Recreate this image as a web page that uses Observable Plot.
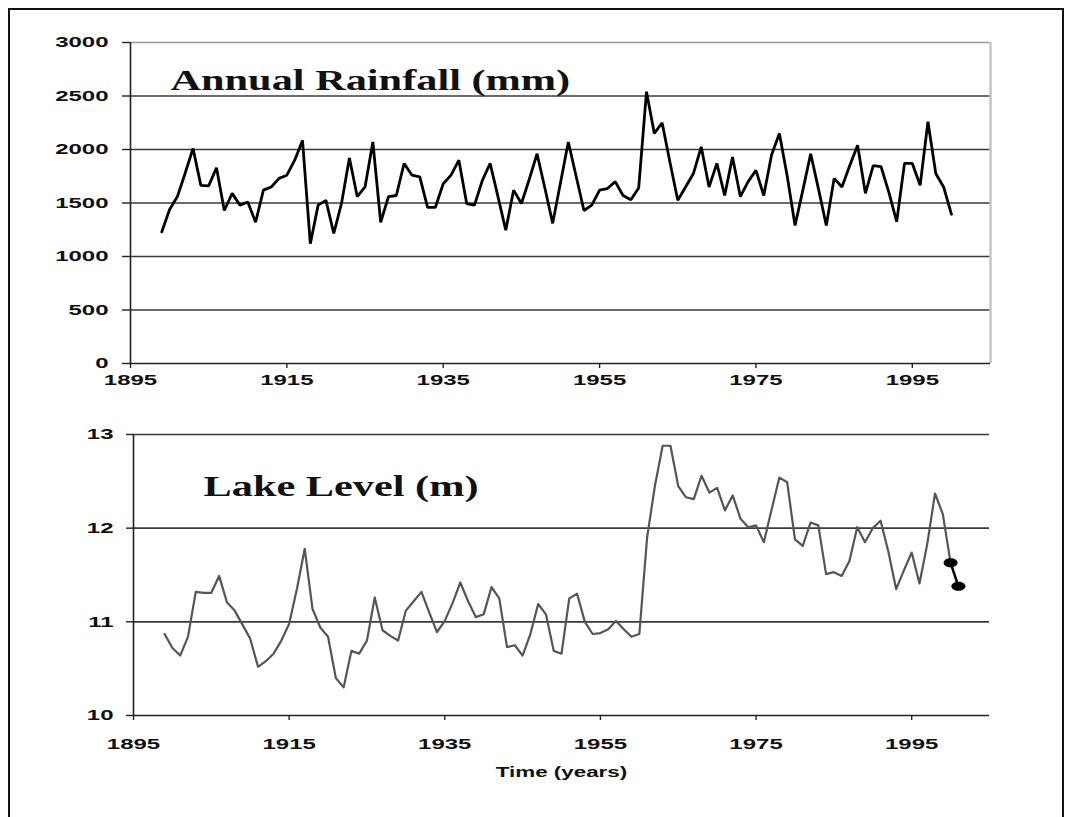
<!DOCTYPE html>
<html>
<head>
<meta charset="utf-8">
<script src="https://cdn.jsdelivr.net/npm/d3@7"></script>
<script src="https://cdn.jsdelivr.net/npm/@observablehq/plot@0.6"></script>
<style>
  body { margin: 0; background: #fff; }
  #wrap { position: relative; width: 1072px; height: 817px; overflow: hidden; background: #fff; }
  #frame { position: absolute; left: 8px; top: 8px; width: 1056px; height: 840px; border: 2px solid #111; box-sizing: border-box; }
  .panel { position: absolute; left: 0; }
</style>
</head>
<body>
<div id="wrap">
  <div id="frame"></div>
  <div id="top" class="panel" style="top:0"></div>
  <div id="bottom" class="panel" style="top:400px"></div>
</div>
<script>
// Annual rainfall (mm), one value per year starting 1899
const rainStart = 1899;
const rainfall = [
  1230, 1440, 1560, 1780, 2010, 1665, 1660, 1830, 1430, 1590,
  1480, 1510, 1320, 1620, 1650, 1730, 1760, 1900, 2085, 1120,
  1480, 1525, 1215, 1500, 1920, 1560, 1650, 2070, 1320, 1560,
  1570, 1870, 1760, 1745, 1460, 1460, 1680, 1760, 1900, 1495,
  1480, 1710, 1870, 1560, 1245, 1620, 1495, 1720, 1960, 1640,
  1310, 1690, 2070, 1750, 1430, 1480, 1620, 1635, 1700, 1570,
  1530, 1640, 2540, 2150, 2250, 1880, 1525, 1650, 1775, 2025,
  1650, 1870, 1570, 1930, 1560, 1700, 1805, 1570, 1950, 2150,
  1750, 1290, 1620, 1960, 1630, 1290, 1730, 1650, 1850, 2040,
  1590, 1850, 1840, 1600, 1325, 1870, 1870, 1665, 2260, 1775,
  1650, 1395
];
const rainYears = rainfall.map((_, i) => rainStart + i);

// Lake level (m), one value per year starting 1899
const lakeStart = 1899;
const lakeLevel = [
  10.87, 10.72, 10.64, 10.84, 11.32, 11.31, 11.31, 11.49, 11.21, 11.12,
  10.97, 10.82, 10.52, 10.58, 10.66, 10.80, 10.98, 11.35, 11.78, 11.14,
  10.94, 10.84, 10.40, 10.30, 10.69, 10.66, 10.80, 11.26, 10.91, 10.85,
  10.80, 11.12, 11.22, 11.32, 11.10, 10.89, 11.01, 11.20, 11.42, 11.22,
  11.05, 11.08, 11.37, 11.25, 10.73, 10.75, 10.64, 10.87, 11.19, 11.08,
  10.69, 10.66, 11.25, 11.30, 11.00, 10.87, 10.88, 10.92, 11.01, 10.92,
  10.84, 10.87, 11.90, 12.45, 12.88, 12.88, 12.45, 12.33, 12.31, 12.56,
  12.38, 12.43, 12.19, 12.35, 12.10, 12.01, 12.03, 11.85, 12.20, 12.54,
  12.49, 11.88, 11.81, 12.06, 12.03, 11.51, 11.53, 11.49, 11.65, 12.01,
  11.85, 12.00, 12.08, 11.75, 11.35, 11.55, 11.74, 11.41, 11.83, 12.37,
  12.15, 11.63
];
const lakeYears = lakeLevel.map((_, i) => lakeStart + i);

// Most recent lake readings, drawn as marked points
const recentYears = [2000, 2001];
const recentLevel = [11.63, 11.38];

const xTicks = [1895, 1915, 1935, 1955, 1975, 1995];
const rainTicks = [0, 500, 1000, 1500, 2000, 2500, 3000];
const lakeTicks = [10, 11, 12, 13];
const xDomain = [1895, 2005];

const rainTitle = "Annual Rainfall (mm)";
const lakeTitle = "Lake Level (m)";
const timeLabel = "Time (years)";

const sans = "'Liberation Sans', Arial, sans-serif";
const serif = "'Liberation Serif', 'Times New Roman', serif";

// filled ellipse symbol for the recent readings
const ellipse = {
  draw(ctx) {
    const rx = 7, ry = 4.5, k = 0.5523;
    ctx.moveTo(rx, 0);
    ctx.bezierCurveTo(rx, ry * k, rx * k, ry, 0, ry);
    ctx.bezierCurveTo(-rx * k, ry, -rx, ry * k, -rx, 0);
    ctx.bezierCurveTo(-rx, -ry * k, -rx * k, -ry, 0, -ry);
    ctx.bezierCurveTo(rx * k, -ry, rx, -ry * k, rx, 0);
    ctx.closePath();
  }
};

const baseStyle = {fontFamily: sans, fontSize: "15px", fontWeight: "bold", background: "transparent", color: "#111", overflow: "visible"};

const rainPlot = Plot.plot({
  width: 1072,
  height: 400,
  marginLeft: 130,
  marginRight: 82,
  marginTop: 42,
  marginBottom: 37,
  style: baseStyle,
  x: {domain: xDomain},
  y: {domain: [0, 3000]},
  marks: [
    Plot.gridY(rainTicks.filter(d => d > 0 && d < 3000), {stroke: "#3a3a3a", strokeOpacity: 1, strokeWidth: 1.6}),
    Plot.ruleY([3000], {stroke: "#9a9a9a", strokeWidth: 1.6}),
    Plot.ruleX([2005], {stroke: "#c4c4c4", strokeWidth: 2.5}),
    Plot.ruleX([1895], {stroke: "#222", strokeWidth: 1.6}),
    Plot.ruleY([0], {stroke: "#222", strokeWidth: 1.6}),
    Plot.axisY({ticks: rainTicks, tickSize: 8, tickPadding: 14, tickFormat: d => String(d), label: null, stroke: "#222", strokeWidth: 1.4, fontWeight: "bold", fontSize: 15}),
    Plot.axisX({ticks: xTicks, tickSize: 5, tickPadding: 6, tickFormat: d => String(d), label: null, stroke: "#222", strokeWidth: 1.4, fontWeight: "bold", fontSize: 15}),
    Plot.line(rainYears, {x: rainYears, y: rainfall, stroke: "#000", strokeWidth: 2.8, strokeLinejoin: "miter"}),
    Plot.text([rainTitle], {frameAnchor: "top-left", dx: 40, dy: 38, textAnchor: "start", lineAnchor: "middle", fontFamily: serif, fontSize: 29, fontWeight: "bold", fill: "#111"})
  ]
});

const lakePlot = Plot.plot({
  width: 1072,
  height: 417,
  marginLeft: 133,
  marginRight: 83,
  marginTop: 34,
  marginBottom: 102,
  style: baseStyle,
  x: {domain: xDomain},
  y: {domain: [10, 13]},
  marks: [
    Plot.gridY(lakeTicks.filter(d => d > 10), {stroke: "#3a3a3a", strokeOpacity: 1, strokeWidth: 1.6}),
    Plot.ruleX([1895], {stroke: "#222", strokeWidth: 1.6}),
    Plot.ruleY([10], {stroke: "#222", strokeWidth: 1.6}),
    Plot.axisY({ticks: lakeTicks, tickSize: 7, tickPadding: 13, tickFormat: d => String(d), label: null, stroke: "#222", strokeWidth: 1.4, fontWeight: "bold", fontSize: 15}),
    Plot.axisX({ticks: xTicks, tickSize: 5, tickPadding: 18, tickFormat: d => String(d), label: null, stroke: "#222", strokeWidth: 1.4, fontWeight: "bold", fontSize: 15}),
    Plot.line(lakeYears, {x: lakeYears, y: lakeLevel, stroke: "#555", strokeWidth: 2.2}),
    Plot.line(recentYears, {x: recentYears, y: recentLevel, stroke: "#000", strokeWidth: 2.5}),
    Plot.dot(recentYears, {x: recentYears, y: recentLevel, symbol: ellipse, fill: "#000", stroke: "none"}),
    Plot.text([lakeTitle], {frameAnchor: "top-left", dx: 70, dy: 52, textAnchor: "start", lineAnchor: "middle", fontFamily: serif, fontSize: 29, fontWeight: "bold", fill: "#111"}),
    Plot.text([timeLabel], {frameAnchor: "bottom", dy: 57, lineAnchor: "middle", fontFamily: sans, fontSize: 14, fontWeight: "bold", fill: "#111"})
  ]
});

// widen the lettering horizontally, anchored at each label's own position
function widen(svg, pick, factor) {
  d3.select(svg).selectAll("text").each(function () {
    if (!pick(this)) return;
    const t = this.getAttribute("transform");
    if (t) {
      this.setAttribute("transform", t + ` scale(${factor},1)`);
    } else {
      const x = +(this.getAttribute("x") || 0), y = +(this.getAttribute("y") || 0);
      this.setAttribute("transform", `translate(${x},${y}) scale(${factor},1) translate(${-x},${-y})`);
    }
  });
}
const isTitle = el => el.textContent === rainTitle || el.textContent === lakeTitle;
const isTime = el => el.textContent === timeLabel;
for (const svg of [rainPlot, lakePlot]) {
  widen(svg, el => /^\d+$/.test(el.textContent), 1.6);
  widen(svg, isTitle, 1.46);
  widen(svg, isTime, 1.6);
}

document.getElementById("top").appendChild(rainPlot);
document.getElementById("bottom").appendChild(lakePlot);
</script>
</body>
</html>
